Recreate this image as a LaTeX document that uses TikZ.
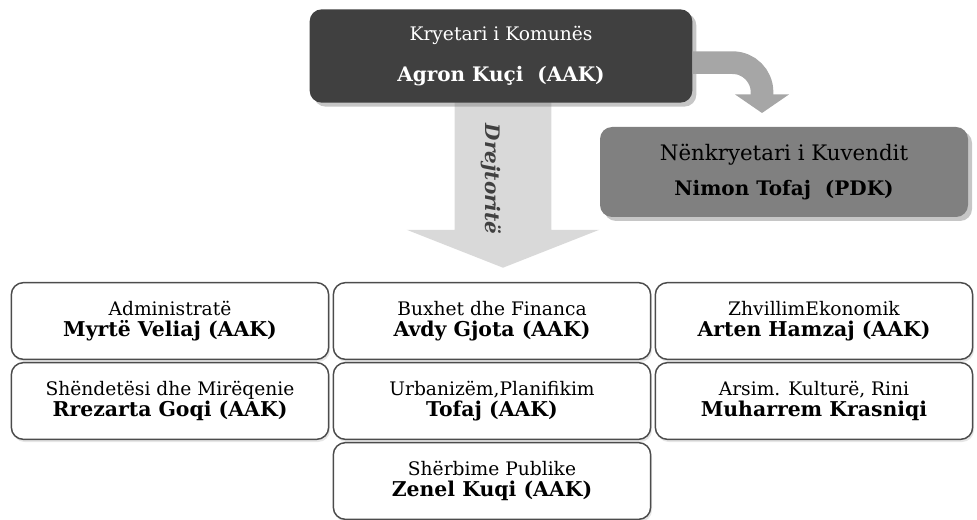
\documentclass[tikz,border=0pt]{standalone}
\usepackage{fontspec}
\setmainfont{DejaVu Serif}
\usetikzlibrary{arrows.meta,shapes.arrows,shadows}
\newcommand\nm[1]{{\fontsize{15.3}{16}\selectfont\bfseries #1}}

\begin{document}
\begin{tikzpicture}[x=0.75pt, y=-0.75pt, every node/.style={font=\fontsize{14}{16}\selectfont}, lead/.style={rounded corners=9pt, minimum width=287pt, minimum height=70pt, align=center, drop shadow={shadow xshift=3pt, shadow yshift=-3pt, opacity=0.45}}, dept/.style={draw=black!70, line width=1.1pt, fill=white, rounded corners=9pt, minimum width=238pt, minimum height=57.5pt, align=center, inner sep=2pt, drop shadow={shadow xshift=1pt, shadow yshift=-2pt, opacity=0.2}}]
	\useasboundingbox (0,0) rectangle (977,520);
	\node[single arrow, rotate=-90, anchor=tip, fill=black!15, text=black!75, font=\fontsize{15}{15}\selectfont\bfseries\itshape, minimum height=124.5pt, inner ysep=30pt, single arrow head extend=36pt, single arrow tip angle=137] (dir) at (503,268) {\raisebox{-10pt}[9pt][3pt]{\hspace*{6pt}Drejtoritë}};
	\node[lead, fill=black!75, text=white, font=\fontsize{14}{16}\selectfont] (mayor) at (501,56) {Kryetari i Komunës\\[15pt] {\fontsize{15}{16}\selectfont\bfseries Agron Kuçi\ \ (AAK)}};
	\node[lead, fill=black!50, text=black, font=\fontsize{16}{16}\selectfont, minimum width=276pt, minimum height=67.5pt] (vice) at (784,172) {Nënkryetari i Kuvendit\\[10pt] {\fontsize{15}{16}\selectfont\bfseries Nimon Tofaj\ \ (PDK)}};
	\coordinate (bend) at (762,113);
	\draw[black!35, line width=17pt, rounded corners=22pt, -{Triangle[width=40pt, length=14pt]}] ([yshift=-5pt]mayor.east) -| (bend);
	\node[dept] (adm) at (170,321) {Administratë\\ \nm{Myrtë Veliaj (AAK)}};
	\node[dept] (fin) at (492,321) {Buxhet dhe Financa\\ \nm{Avdy Gjota (AAK)}};
	\node[dept] (eko) at (814,321) {ZhvillimEkonomik\\ \nm{Arten Hamzaj (AAK)}};
	\node[dept] (shen) at (170,401) {Shëndetësi dhe Mirëqenie\\ \nm{Rrezarta Goqi (AAK)}};
	\node[dept] (urb) at (492,401) {Urbanizëm,Planifikim\\ \nm{Tofaj (AAK)}};
	\node[dept] (ars) at (814,401) {Arsim. Kulturë, Rini\\ \nm{Muharrem Krasniqi}};
	\node[dept] (pub) at (492,481) {Shërbime Publike\\ \nm{Zenel Kuqi (AAK)}};
\end{tikzpicture}
\end{document}
